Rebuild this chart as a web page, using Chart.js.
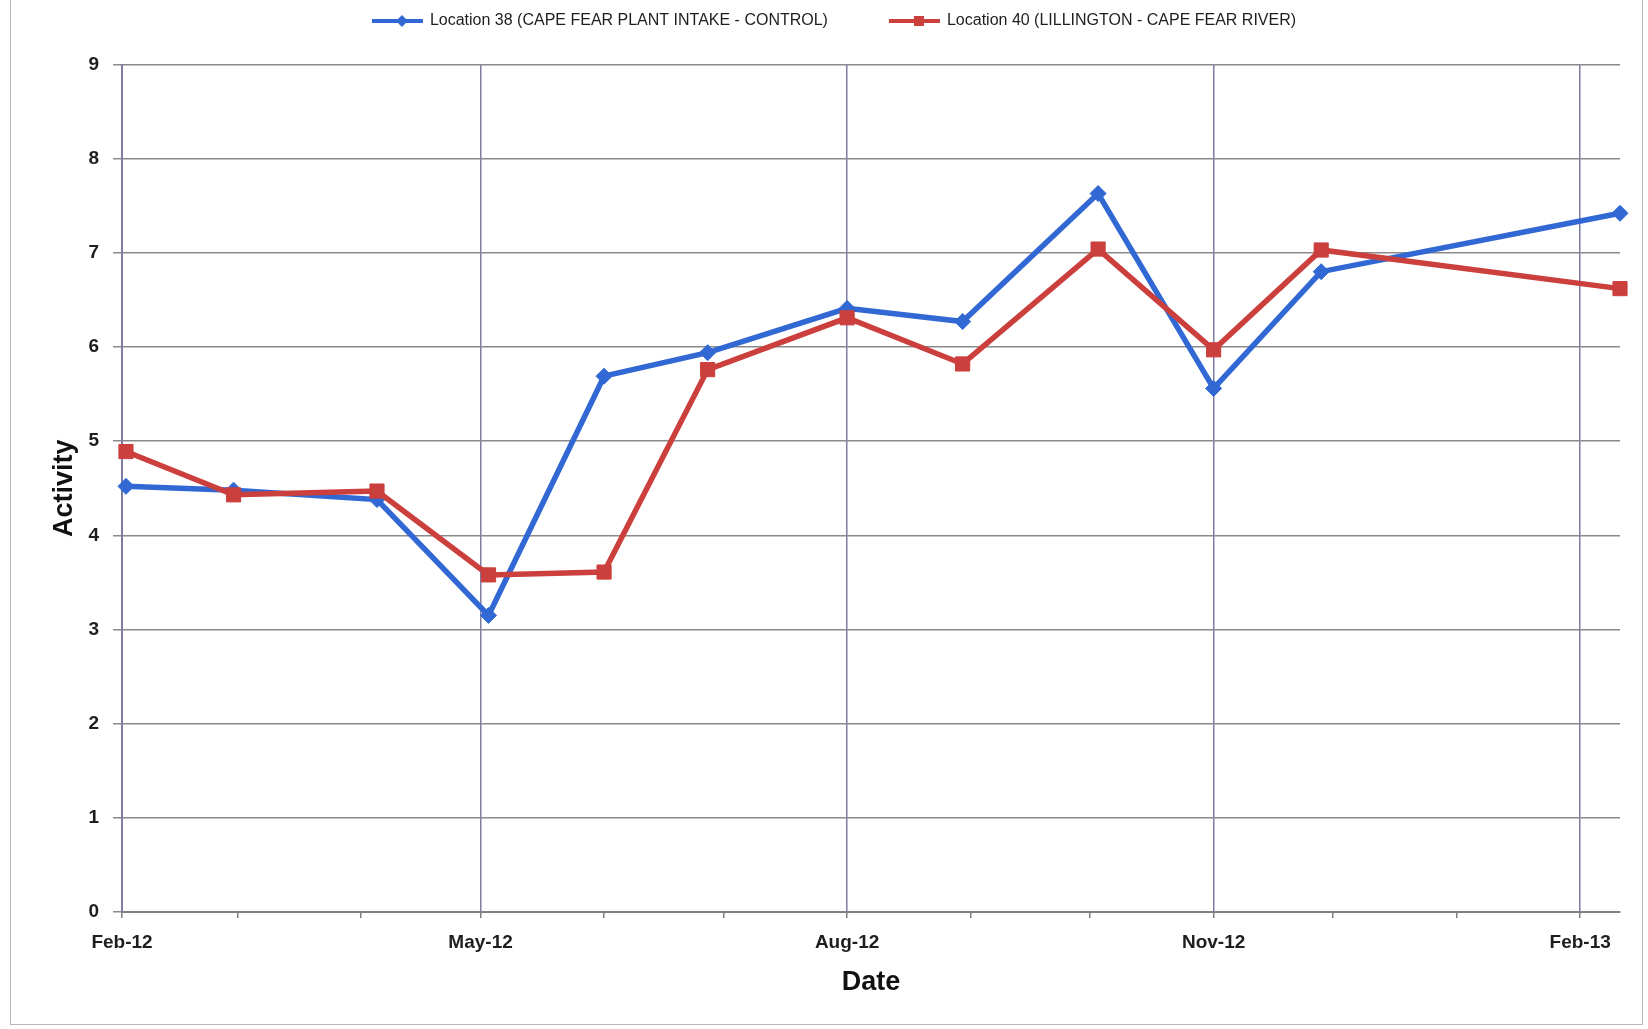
<!DOCTYPE html>
<html>
<head>
<meta charset="utf-8">
<title>Activity by date</title>
<script src="https://cdn.jsdelivr.net/npm/chart.js@4.4.1/dist/chart.umd.min.js"></script>
<style>
  html, body { margin: 0; padding: 0; background: #ffffff; }
  #wrap { position: relative; width: 1648px; height: 1029px; overflow: hidden; }
  #frame {
    position: absolute; left: 10px; top: -2px; width: 1633px; height: 1027px;
    border: 1px solid #b8b8b8; box-sizing: border-box; pointer-events: none;
  }
</style>
</head>
<body>
<div id="wrap">
  <canvas id="chart" width="1648" height="1029"></canvas>
  <div id="frame"></div>
</div>
<script>
// Sampling dates and measured activity for the two river locations
const sampleDates = ['2012-02-02', '2012-02-29', '2012-04-05', '2012-05-03', '2012-06-01', '2012-06-27',
                     '2012-08-01', '2012-08-30', '2012-10-03', '2012-11-01', '2012-11-28', '2013-02-11'];
const location38 = [4.52, 4.48, 4.38, 3.15, 5.69, 5.94, 6.41, 6.27, 7.63, 5.56, 6.80, 7.42];
const location40 = [4.89, 4.43, 4.47, 3.58, 3.61, 5.76, 6.31, 5.82, 7.04, 5.97, 7.03, 6.62];

const seriesNames = ['Location 38 (CAPE FEAR PLANT INTAKE - CONTROL)', 'Location 40 (LILLINGTON - CAPE FEAR RIVER)'];

// Monthly tick marks on the date axis; only every third month is labelled
const tickDates = ['2012-02-01', '2012-03-01', '2012-04-01', '2012-05-01', '2012-06-01', '2012-07-01', '2012-08-01',
                   '2012-09-01', '2012-10-01', '2012-11-01', '2012-12-01', '2013-01-01', '2013-02-01'];
const tickLabels = ['Feb-12', '', '', 'May-12', '', '', 'Aug-12', '', '', 'Nov-12', '', '', 'Feb-13'];
const axisStart = '2012-02-01';
const axisEnd = '2013-02-11';

const yMin = 0, yMax = 9, yStep = 1;

// Dates become day counts from the start of the axis
const DAY_MS = 86400000;
function toUTC(s) { const [y, m, d] = s.split('-').map(Number); return Date.UTC(y, m - 1, d); }
function dayOf(s) { return (toUTC(s) - toUTC(axisStart)) / DAY_MS; }

const BLUE = '#3168D3';
const RED = '#CB3F3D';
const FONT = "'Liberation Sans', Arial, sans-serif";

function points(values) { return sampleDates.map((d, i) => ({ x: dayOf(d), y: values[i] })); }

// Legend sample: a short line with the series marker on it
function legendSwatch(color, marker) {
  const c = document.createElement('canvas');
  c.width = 56; c.height = 16;
  const g = c.getContext('2d');
  g.strokeStyle = color; g.fillStyle = color; g.lineWidth = 4;
  g.beginPath(); g.moveTo(3, 8); g.lineTo(54, 8); g.stroke();
  const cx = 33;
  g.beginPath();
  if (marker === 'rectRot') {
    g.moveTo(cx, 2); g.lineTo(cx + 6, 8); g.lineTo(cx, 14); g.lineTo(cx - 6, 8); g.closePath();
  } else {
    g.rect(cx - 5, 3, 10, 10);
  }
  g.fill();
  return c;
}
const swatches = [legendSwatch(BLUE, 'rectRot'), legendSwatch(RED, 'rect')];

new Chart(document.getElementById('chart'), {
  type: 'line',
  data: {
    datasets: [
      {
        label: seriesNames[0],
        data: points(location38),
        borderColor: BLUE, backgroundColor: BLUE,
        borderWidth: 5.5, tension: 0,
        pointStyle: 'rectRot', pointRadius: 8, pointBorderWidth: 1,
        pointBackgroundColor: BLUE, pointBorderColor: BLUE,
        clip: false, order: 1
      },
      {
        label: seriesNames[1],
        data: points(location40),
        borderColor: RED, backgroundColor: RED,
        borderWidth: 5.5, tension: 0,
        pointStyle: 'rect', pointRadius: 10, pointBorderWidth: 1,
        pointBackgroundColor: RED, pointBorderColor: RED,
        clip: false, order: 0
      }
    ]
  },
  options: {
    responsive: false,
    animation: false,
    devicePixelRatio: 1,
    layout: { padding: { left: 48, right: 28, top: -48, bottom: 0 } },
    plugins: {
      tooltip: { enabled: false },
      legend: {
        position: 'top',
        weight: 3000,
        labels: {
          usePointStyle: true,
          pointStyleWidth: 50,
          padding: 61,
          color: '#1e1e1e',
          font: { family: FONT, size: 16 },
          sort: (a, b) => a.datasetIndex - b.datasetIndex,
          generateLabels: chart => Chart.defaults.plugins.legend.labels.generateLabels(chart)
            .map(item => Object.assign(item, { pointStyle: swatches[item.datasetIndex] }))
        }
      },
      // empty title used as spacing between the legend and the plot
      title: {
        display: true, text: '', position: 'top',
        font: { size: 1, lineHeight: 1 },
        padding: { top: 24.5, bottom: 0 }
      }
    },
    scales: {
      x: {
        type: 'linear',
        min: dayOf(axisStart),
        max: dayOf(axisEnd),
        afterBuildTicks: scale => { scale.ticks = tickDates.map(d => ({ value: dayOf(d) })); },
        afterFit: scale => { scale.height = 117; },
        ticks: {
          autoSkip: false, maxRotation: 0, minRotation: 0,
          padding: 13,
          color: '#1e1e1e',
          font: { family: FONT, size: 19, weight: 'bold' },
          callback: (value, index) => tickLabels[index]
        },
        grid: {
          color: ctx => (tickLabels[ctx.index] ? '#7c7ca4' : 'rgba(0,0,0,0)'),
          lineWidth: 1.5,
          tickColor: '#7f7f7f',
          tickLength: 6
        },
        border: { color: '#808080', width: 2 },
        title: {
          display: true, text: 'Date', color: '#111111',
          font: { family: FONT, size: 27, weight: 'bold' },
          padding: { top: 0, bottom: 29.8 }
        }
      },
      y: {
        min: yMin, max: yMax,
        afterFit: scale => { scale.width = 74; },
        ticks: {
          stepSize: yStep,
          padding: 14,
          color: '#1e1e1e',
          font: { family: FONT, size: 19, weight: 'bold' }
        },
        grid: {
          color: '#8a8a8a',
          lineWidth: 1.5,
          tickColor: '#8a8a8a',
          tickLength: 9
        },
        border: { color: '#7c7ca4', width: 2 },
        title: {
          display: true, text: 'Activity', color: '#111111',
          font: { family: FONT, size: 27, weight: 'bold' },
          padding: { top: 0, bottom: 0 }
        }
      }
    }
  }
});
</script>
</body>
</html>
